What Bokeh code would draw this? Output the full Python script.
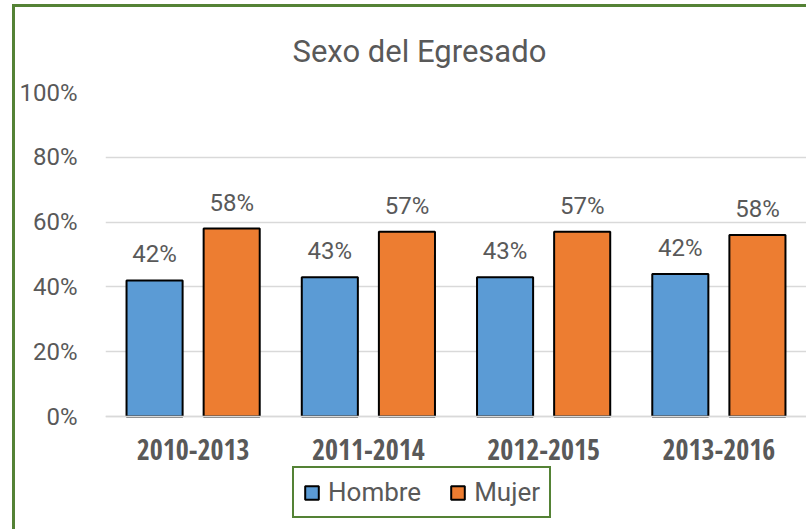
from bokeh.plotting import figure
from bokeh.models import (ColumnDataSource, FactorRange, Range1d, FixedTicker,
                          NumeralTickFormatter, Legend, LegendItem)
from bokeh.transform import dodge
from bokeh.core.properties import value
from bokeh.embed import file_html
from bokeh.resources import INLINE

periods = ["2010-2013", "2011-2014", "2012-2015", "2013-2016"]
hombre = [0.42, 0.43, 0.43, 0.44]
mujer = [0.58, 0.57, 0.57, 0.56]
hombre_labels = ["42%", "43%", "43%", "42%"]
mujer_labels = ["58%", "57%", "57%", "58%"]
y_ticks = [0, 0.2, 0.4, 0.6, 0.8, 1.0]

FONT = "Roboto"
BOLD_FONT = "Open Sans Condensed"
GRAY = "#595959"
GREEN = "#548235"

# layout (pixels)
W, H = 794, 525
TOP, BOTTOM, LEFT, RIGHT = 85, 7, 90, 3
PX_PER_UNIT = 324
frame_h = H - TOP - BOTTOM
y_start = 1 - frame_h / PX_PER_UNIT

src = ColumnDataSource(dict(period=periods, hombre=hombre, mujer=mujer,
                            hl=hombre_labels, ml=mujer_labels))

p = figure(x_range=FactorRange(*periods), y_range=Range1d(y_start, 1),
           width=W, height=H, output_backend="svg", toolbar_location=None,
           min_border_left=LEFT, min_border_right=RIGHT, min_border_top=TOP,
           min_border_bottom=BOTTOM, title="Sexo del Egresado")
p.styles = {"margin-left": "12px", "margin-top": "4px",
            "border-left": f"3px solid {GREEN}", "border-top": f"3px solid {GREEN}"}

r1 = p.vbar(x=dodge("period", -0.22, range=p.x_range), top="hombre", width=0.32,
            source=src, fill_color="#5B9BD5", line_color="black", line_width=2)
r2 = p.vbar(x=dodge("period", 0.22, range=p.x_range), top="mujer", width=0.32,
            source=src, fill_color="#ED7D31", line_color="black", line_width=2)

for off, col, lab in [(-0.22, "hombre", "hl"), (0.22, "mujer", "ml")]:
    p.text(x=dodge("period", off, range=p.x_range), y=col, text=lab, source=src,
           text_align="center", text_baseline="bottom", y_offset=-12,
           text_font=value(FONT), text_font_size="24px", text_color=GRAY)

p.title.text_font = FONT
p.title.text_font_size = "31px"
p.title.text_font_style = "normal"
p.title.text_color = GRAY
p.title.align = "left"
p.title.offset = 187
p.title.standoff = 46

p.outline_line_color = None
p.xgrid.visible = False
p.ygrid.grid_line_color = "#D9D9D9"
p.ygrid.grid_line_width = 1.3

p.yaxis.ticker = FixedTicker(ticks=y_ticks)
p.yaxis.formatter = NumeralTickFormatter(format="0%")
p.yaxis.major_tick_line_color = None
p.yaxis.minor_tick_line_color = None
p.yaxis.axis_line_color = None
p.yaxis.major_label_standoff = 22
p.yaxis.major_label_text_font = FONT
p.yaxis.major_label_text_font_size = "24px"
p.yaxis.major_label_text_color = GRAY

p.xaxis.fixed_location = 0
p.xaxis.axis_line_color = "#D9D9D9"
p.xaxis.axis_line_width = 1.3
p.xaxis.major_tick_line_color = None
p.xaxis.minor_tick_line_color = None
p.xaxis.major_label_standoff = 16
p.xaxis.major_label_text_font = BOLD_FONT
p.xaxis.major_label_text_font_size = "28px"
p.xaxis.major_label_text_font_style = "bold"
p.xaxis.major_label_text_color = GRAY

legend = Legend(items=[LegendItem(label="Hombre", renderers=[r1]),
                       LegendItem(label="Mujer", renderers=[r2])],
                orientation="horizontal", location=(187, 7),
                glyph_width=17, glyph_height=17, label_standoff=8, spacing=28,
                padding=9, margin=0,
                label_text_font=FONT, label_text_font_size="26px",
                label_text_color=GRAY,
                border_line_color=GREEN, border_line_width=2, border_line_alpha=1,
                background_fill_color="white", background_fill_alpha=1)
p.add_layout(legend)

open("out.html", "w").write(file_html(p, INLINE))
